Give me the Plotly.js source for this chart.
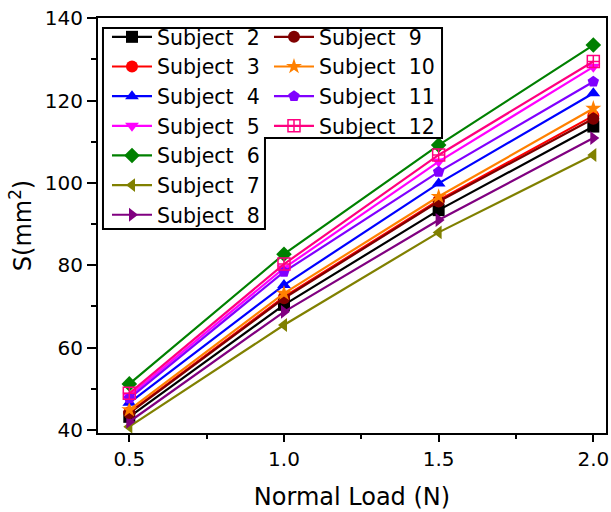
<!DOCTYPE html>
<html>
<head>
<meta charset="utf-8">
<script src="https://cdn.plot.ly/plotly-3.0.1.min.js"></script>
<style>html,body{margin:0;padding:0;background:#fff;}#chart{width:611px;height:512px;}</style>
</head>
<body>
<div id="chart"></div>
<script>
var loads = [0.5, 1.0, 1.5, 2.0];
var subjectNames = ["Subject\u00A0\u00A02","Subject\u00A0\u00A03","Subject\u00A0\u00A04","Subject\u00A0\u00A05","Subject\u00A0\u00A06","Subject\u00A0\u00A07","Subject\u00A0\u00A08","Subject\u00A0\u00A09","Subject\u00A0\u00A010","Subject\u00A0\u00A011","Subject\u00A0\u00A012"];
var s2  = [43.2, 70.4, 93.4, 113.7];
var s3  = [44.3, 72.3, 95.8, 116.3];
var s4  = [46.6, 75.2, 99.9, 121.8];
var s5  = [48.3, 79.3, 105.2, 128.2];
var s6  = [51.2, 82.7, 109.2, 133.5];
var s7  = [40.8, 65.5, 88.0, 106.8];
var s8  = [42.0, 68.7, 91.0, 110.9];
var s9  = [44.1, 72.0, 95.5, 115.6];
var s10 = [44.9, 73.2, 96.7, 118.1];
var s11 = [47.7, 78.4, 102.7, 124.6];
var s12 = [48.9, 80.3, 106.8, 129.5];
var yTickVals = [40, 60, 80, 100, 120, 140];
var xTickVals = [0.5, 1.0, 1.5, 2.0];
var xTickText = ["0.5", "1.0", "1.5", "2.0"];

var series = [s2, s3, s4, s5, s6, s7, s8, s9, s10, s11, s12];
var colors = ["#000000","#FF0000","#0000FF","#FF00FF","#008000","#808000","#800080","#800000","#FF8000","#8000FF","#FF0080"];
var symbols = ["square","circle","triangle-up","triangle-down","diamond","triangle-left","triangle-right","circle","star","pentagon","square-cross-open"];

var traces = series.map(function(vals, i) {
  return {
    x: loads, y: vals, type: "scatter", mode: "lines+markers",
    name: subjectNames[i],
    legend: i < 7 ? "legend" : "legend2",
    line: {color: colors[i], width: 2.2},
    marker: {symbol: symbols[i], size: 12, color: colors[i], line: {width: symbols[i] === "square-cross-open" ? 1.5 : 0, color: colors[i]}}
  };
});

var F = "DejaVu Sans, Arial, sans-serif";
var LF = {family: F, size: 20.5, color: "#000"};
var layout = {
  width: 611, height: 512,
  margin: {l: 98, r: 5, t: 18, b: 79},
  paper_bgcolor: "#fff", plot_bgcolor: "#fff",
  font: {family: F, size: 20, color: "#000"},
  showlegend: true,
  xaxis: {
    range: [0.3988, 2.041], tickvals: xTickVals, ticktext: xTickText,
    ticks: "outside", ticklen: 7, tickwidth: 2, tickcolor: "#000",
    minor: {tickvals: [0.75, 1.25, 1.75], ticks: "outside", ticklen: 4, tickwidth: 2, tickcolor: "#000"},
    showline: true, linewidth: 2, linecolor: "#000", mirror: true,
    showgrid: false, zeroline: false,
    tickfont: {family: F, size: 20, color: "#000"},
    title: {text: "Normal Load (N)", font: {family: F, size: 24, color: "#000"}, standoff: 18}
  },
  yaxis: {
    range: [39.27, 140.07], tickvals: yTickVals,
    ticks: "outside", ticklen: 9, tickwidth: 2, tickcolor: "#000",
    minor: {dtick: 10, ticks: "outside", ticklen: 5, tickwidth: 2, tickcolor: "#000"},
    showline: true, linewidth: 2, linecolor: "#000", mirror: true,
    showgrid: false, zeroline: false,
    tickfont: {family: F, size: 20, color: "#000"},
    title: {text: "S(mm<sup>2</sup>)", font: {family: F, size: 24, color: "#000"}, standoff: 6}
  },
  legend: {
    x: 0.0177, y: 1.0024, xanchor: "left", yanchor: "top",
    bgcolor: "rgba(0,0,0,0)", borderwidth: 0,
    font: LF, tracegroupgap: 0, itemwidth: 40
  },
  legend2: {
    x: 0.3366, y: 1.0024, xanchor: "left", yanchor: "top",
    bgcolor: "rgba(0,0,0,0)", borderwidth: 0,
    font: LF, tracegroupgap: 0, itemwidth: 40
  },
  shapes: [{
    type: "path", xref: "paper", yref: "paper", layer: "above",
    path: "M 0.0098 0.9759 L 0.6772 0.9759 L 0.6772 0.7108 L 0.3287 0.7108 L 0.3287 0.4916 L 0.0098 0.4916 Z",
    line: {color: "#000", width: 2}
  }]
};

Plotly.newPlot("chart", traces, layout, {displayModeBar: false, staticPlot: true});
</script>
</body>
</html>
